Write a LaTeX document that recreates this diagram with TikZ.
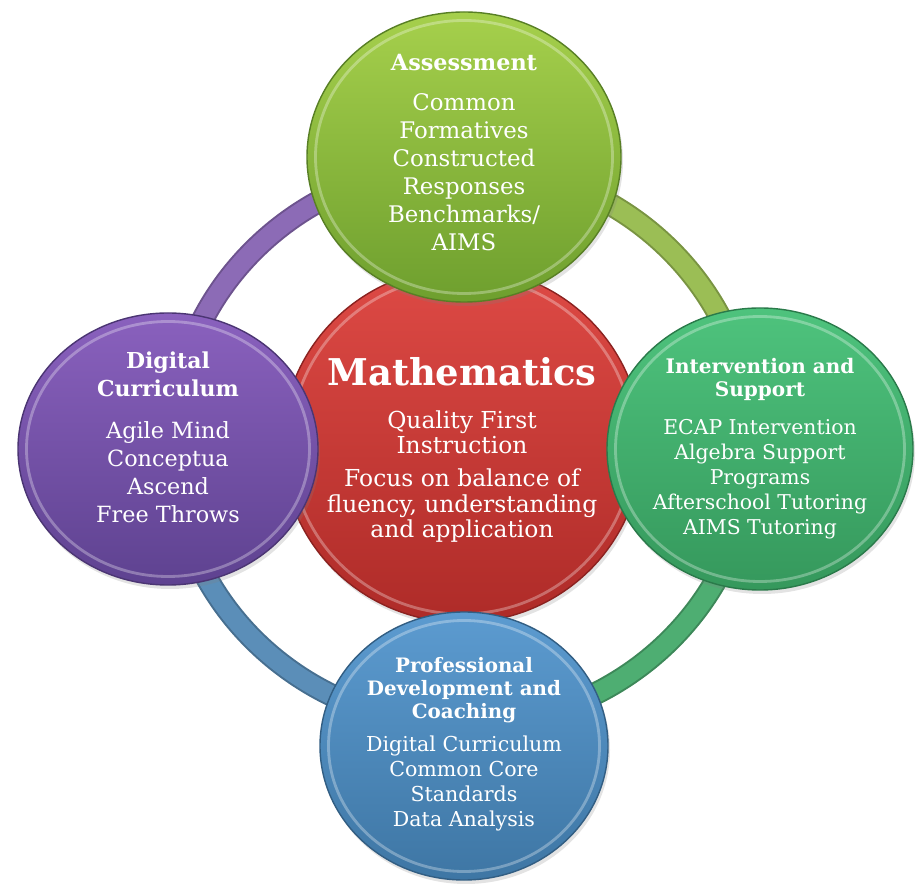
\documentclass[tikz,border=0pt]{standalone}
\usepackage{fontspec}
\setmainfont{DejaVu Serif}
\usetikzlibrary{positioning,shapes.geometric,shadows}

\definecolor{mathTop}{HTML}{DE4A45}
\definecolor{mathBot}{HTML}{AE2B28}
\definecolor{assessTop}{HTML}{A6D04C}
\definecolor{assessBot}{HTML}{6E9F2E}
\definecolor{digitalTop}{HTML}{8A61BE}
\definecolor{digitalBot}{HTML}{5E4290}
\definecolor{supportTop}{HTML}{4EC37D}
\definecolor{supportBot}{HTML}{35985C}
\definecolor{coachTop}{HTML}{5C9BD0}
\definecolor{coachBot}{HTML}{3E76A4}
\definecolor{ringLime}{HTML}{9BBE55}
\definecolor{ringPurple}{HTML}{8C6BB6}
\definecolor{ringBlue}{HTML}{5B8EB8}
\definecolor{ringGreen}{HTML}{4EAE72}

\tikzset{
  bubble/.style n args={4}{ellipse, minimum width=#1, minimum height=#2, inner sep=0pt,
    top color=#3, bottom color=#4, draw=#4!80!black, line width=.8pt,
    drop shadow={opacity=.22, shadow xshift=.04cm, shadow yshift=-.08cm},
    path picture={\draw[white, opacity=.3, line width=1.6pt]
      (path picture bounding box.center) ellipse [x radius={#1/2-.17cm}, y radius={#2/2-.17cm}];}},
  ring/.style={draw=#1, line width=.38cm, preaction={draw=#1!78!black, line width=.46cm}},
  title/.style={text=white, align=center, font=\bfseries\fontsize{21}{25}\selectfont},
  head/.style 2 args={text=white, align=center, font=\bfseries\fontsize{#1}{#2}\selectfont},
  body/.style 2 args={text=white, align=center, font=\fontsize{#1}{#2}\selectfont}
}

\begin{document}
\begin{tikzpicture}[on grid]
    \useasboundingbox (0,0) rectangle (18.36,-17.68);
    \coordinate (hub) at (9.24,-8.9);
% ring
    \foreach \a/\c in {0/ringLime,90/ringPurple,180/ringBlue,270/ringGreen} {
      \draw[ring=\c] (hub) ++(\a:5.8cm and 5.6cm)
        arc[start angle=\a, delta angle=90, x radius=5.8cm, y radius=5.6cm];
    }
% bubbles
    \node[bubble={7.2cm}{7.1cm}{mathTop}{mathBot}] (math) at (hub) {}; %
    \node[bubble={6.28cm}{5.8cm}{assessTop}{assessBot}, above=5.76cm of math, xshift=.04cm] (assess) {}; %
    \node[bubble={6.0cm}{5.44cm}{digitalTop}{digitalBot}, left=5.88cm of math, yshift=-.08cm] (digital) {}; %
    \node[bubble={6.12cm}{5.64cm}{supportTop}{supportBot}, right=5.96cm of math, yshift=-.08cm] (support) {}; %
    \node[bubble={5.76cm}{5.36cm}{coachTop}{coachBot}, below=6.02cm of math, xshift=.04cm] (coaching) {}; %
% mathematics
    \node[title, above=1.46cm of math] (math_title) {Mathematics}; %
    \node[body={13.3}{14.5}, above=.25cm of math] (math_quality) {Quality First\\Instruction}; %
    \node[body={13.3}{14.5}, below=1.22cm of math] (math_focus) {Focus on balance of\\fluency, understanding\\and application}; %
% assessment
    \node[head={12.7}{15}, above=1.88cm of assess] (assess_head) {Assessment}; %
    \node[body={13}{15.9}, below=.3cm of assess] (assess_body) {Common\\Formatives\\Constructed\\Responses\\Benchmarks/\\AIMS}; %
% digital curriculum
    \node[head={12.5}{15.9}, above=1.5cm of digital] (digital_head) {Digital\\Curriculum}; %
    \node[body={12.7}{15.9}, below=.46cm of digital] (digital_body) {Agile Mind\\Conceptua\\Ascend\\Free Throws}; %
% intervention
    \node[head={11.4}{13}, above=1.39cm of support] (support_head) {Intervention and\\Support}; %
    \node[body={11.6}{14.2}, below=.6cm of support] (support_body) {ECAP Intervention\\Algebra Support\\Programs\\Afterschool Tutoring\\AIMS Tutoring}; %
% coaching
    \node[head={11.3}{13}, above=1.12cm of coaching] (coaching_head) {Professional\\Development and\\Coaching}; %
    \node[body={11.7}{14.2}, below=.75cm of coaching] (coaching_body) {Digital Curriculum\\Common Core\\Standards\\Data Analysis}; %
\end{tikzpicture}
\end{document}
